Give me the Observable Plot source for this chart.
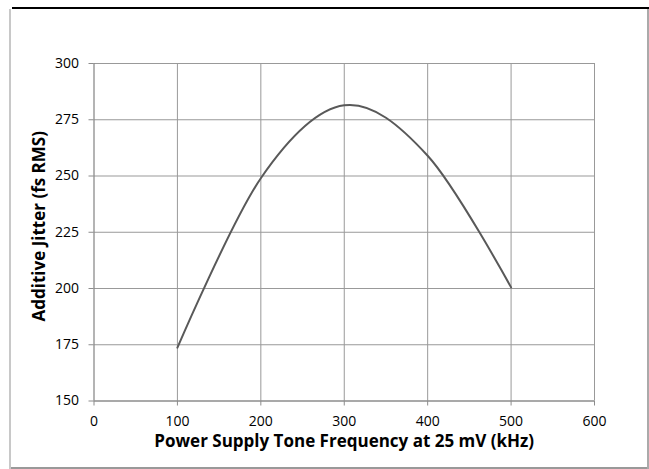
<!DOCTYPE html>
<html>
<head>
<meta charset="utf-8">
<script src="https://cdn.jsdelivr.net/npm/d3@7"></script>
<script src="https://cdn.jsdelivr.net/npm/@observablehq/plot@0.6"></script>
<style>
  html, body { margin: 0; padding: 0; background: #fff; }
  #wrap { position: relative; width: 649px; height: 469px; overflow: hidden; }
  .b { position: absolute; }
  #bt { left: 12px; top: 7px; width: 637px; height: 2px; background: #000; }
  #bl { left: 9px; top: 9px; width: 2px; height: 460px; background: #c8c8c8; }
  #bb { left: 11px; top: 467px; width: 637px; height: 2px; background: #999; }
  #br { left: 647px; top: 9px; width: 2px; height: 460px; background: #aaa; }
</style>
</head>
<body>
<div id="wrap">
  <div id="chart"></div>
  <div class="b" id="bt"></div>
  <div class="b" id="bl"></div>
  <div class="b" id="bb"></div>
  <div class="b" id="br"></div>
</div>
<script>
const freq = [100, 200, 300, 400, 500];
const jitter = [173.7, 249, 281.4, 259, 200.5];
const xTicks = [0, 100, 200, 300, 400, 500, 600];
const yTicks = [150, 175, 200, 225, 250, 275, 300];
const xTitle = "Power Supply Tone Frequency at 25 mV (kHz)";
const yTitle = "Additive Jitter (fs RMS)";

const data = freq.map((f, i) => ({f, j: jitter[i]}));

const font = "'Open Sans', 'Liberation Sans', sans-serif";
const chart = Plot.plot({
  width: 649,
  height: 469,
  marginLeft: 93.5,
  marginRight: 55,
  marginTop: 63,
  marginBottom: 68.5,
  style: {fontFamily: font, fontSize: "14px", color: "#000", background: "transparent"},
  x: {domain: [0, 600]},
  y: {domain: [150, 300]},
  marks: [
    Plot.gridX(xTicks.filter(d => d > 0), {stroke: "#999", strokeOpacity: 1, strokeWidth: 1}),
    Plot.gridY(yTicks.filter(d => d > 150), {stroke: "#999", strokeOpacity: 1, strokeWidth: 1}),
    Plot.ruleX([0], {stroke: "#8c8c8c", strokeWidth: 1.3}),
    Plot.ruleY([150], {stroke: "#8c8c8c", strokeWidth: 1.3}),
    Plot.axisX(xTicks, {tickSize: 5, tickPadding: 10, stroke: "#8c8c8c", fill: "#000", fontSize: 14, label: null}),
    Plot.axisY(yTicks, {tickSize: 5, tickPadding: 10, stroke: "#8c8c8c", fill: "#000", fontSize: 14, label: null}),
    Plot.line(data, {x: "f", y: "j", curve: "cardinal", tension: 0, stroke: "#595959", strokeWidth: 2}),
    Plot.text([xTitle], {frameAnchor: "bottom", textAnchor: "middle", lineAnchor: "middle", dy: 41, fontWeight: "bold", fontSize: 17, fill: "#000"}),
    Plot.text([yTitle], {frameAnchor: "left", textAnchor: "middle", lineAnchor: "middle", rotate: -90, dx: -54, dy: -6, fontWeight: "bold", fontSize: 17, fill: "#000"})
  ]
});
document.getElementById("chart").appendChild(chart);
</script>
</body>
</html>
